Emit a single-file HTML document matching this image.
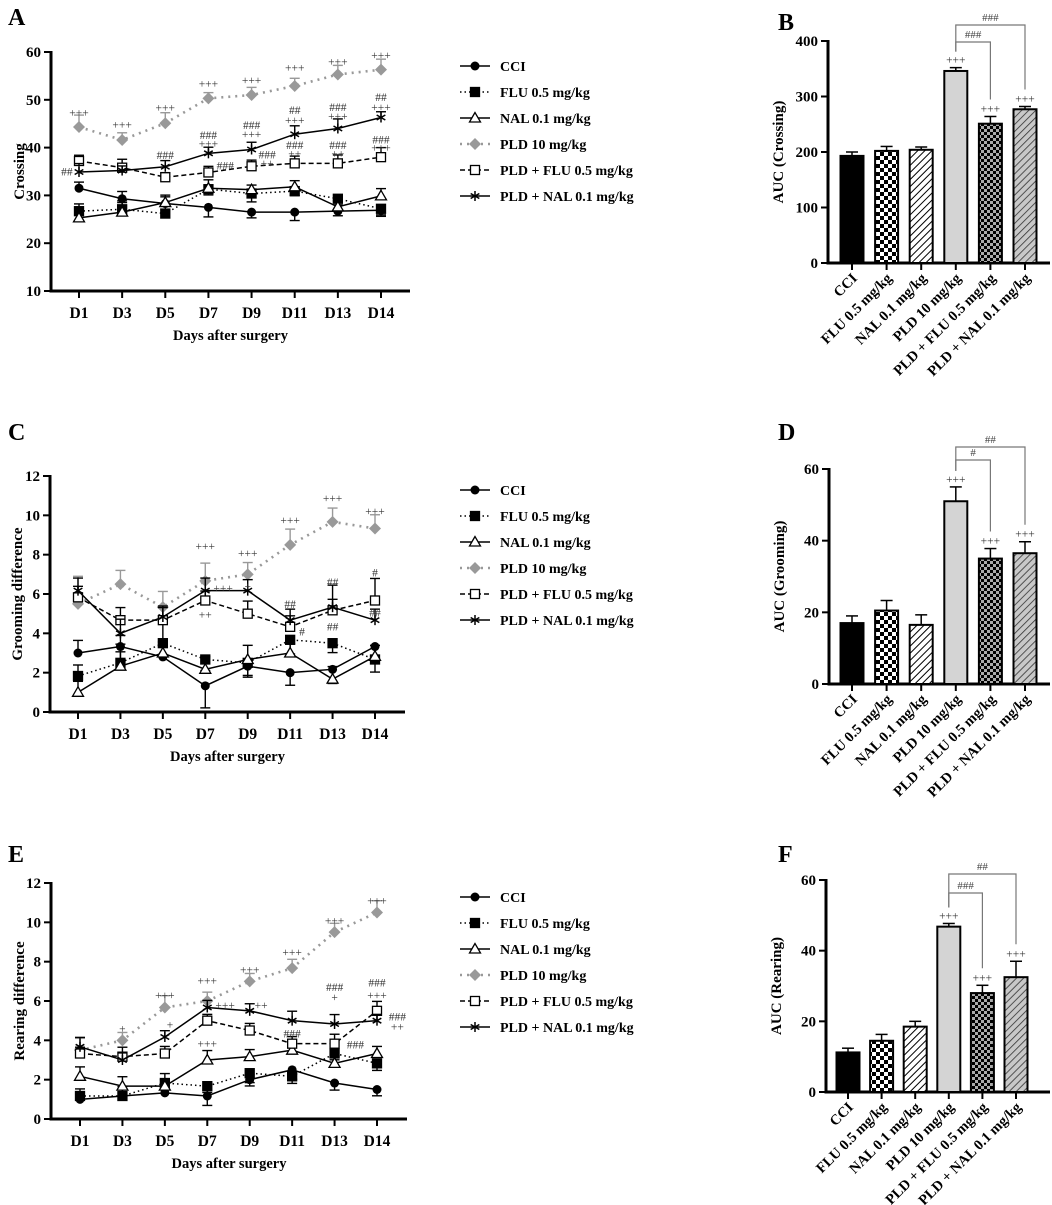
<!DOCTYPE html>
<html><head><meta charset="utf-8"><style>
html,body{margin:0;padding:0;background:#fff;}
svg{display:block;font-family:"Liberation Serif",serif;font-weight:bold;}
</style></head><body>
<svg id="fig" width="1052" height="1205" viewBox="0 0 1052 1205" xmlns="http://www.w3.org/2000/svg">
<defs>
<pattern id="chkBig" width="8" height="8" patternUnits="userSpaceOnUse"><rect width="8" height="8" fill="#fff"/><rect width="4" height="4" fill="#000"/><rect x="4" y="4" width="4" height="4" fill="#000"/></pattern>
<pattern id="chkSmall" width="6" height="6" patternUnits="userSpaceOnUse"><rect width="6" height="6" fill="#aaa"/><rect width="3" height="3" fill="#000"/><rect x="3" y="3" width="3" height="3" fill="#000"/></pattern>
<pattern id="hatchW" width="5" height="5" patternUnits="userSpaceOnUse" patternTransform="rotate(45)"><rect width="5" height="5" fill="#fff"/><line x1="0" y1="0" x2="0" y2="5" stroke="#000" stroke-width="2"/></pattern>
<pattern id="hatchG" width="5" height="5" patternUnits="userSpaceOnUse" patternTransform="rotate(45)"><rect width="5" height="5" fill="#c8c8c8"/><line x1="0" y1="0" x2="0" y2="5" stroke="#333" stroke-width="1.6"/></pattern>
</defs>
</svg>
<script>
const days = ["D1","D3","D5","D7","D9","D11","D13","D14"];
const groups = ["CCI","FLU 0.5 mg/kg","NAL 0.1 mg/kg","PLD 10 mg/kg","PLD + FLU 0.5 mg/kg","PLD + NAL 0.1 mg/kg"];
// Panel A crossing
const crossCCI = [31.5,29.3,28.3,27.5,26.5,26.5,26.7,26.9];
const crossFLU = [26.7,27.1,26.2,31.3,30.4,30.9,29.3,27.2];
const crossNAL = [25.3,26.5,28.5,31.5,31.2,31.8,27.6,29.9];
const crossPLD = [44.3,41.6,45.1,50.3,51.0,52.9,55.3,56.3];
const crossPF = [37.2,35.8,33.8,34.8,36.1,36.7,36.7,38.0];
const crossPN = [34.9,35.2,36.0,38.8,39.6,42.8,44.0,46.3];
const crossErr = [1.6,1.9,2.2,2.5,1.5,2.2,1.2,1.6];
const crossTicks = [10,20,30,40,50,60];
// Panel C grooming
const groomCCI = [3.0,3.33,2.8,1.33,2.33,2.0,2.17,3.33];
const groomFLU = [1.83,2.5,3.5,2.67,2.5,3.67,3.5,2.67];
const groomNAL = [1.0,2.33,3.0,2.17,2.67,3.0,1.67,2.83];
const groomPLD = [5.5,6.5,5.33,6.67,7.0,8.5,9.67,9.33];
const groomPF = [5.83,4.67,4.67,5.67,5.0,4.33,5.17,5.67];
const groomPN = [6.17,4.0,4.83,6.17,6.17,4.67,5.33,4.67];
const groomErr = [0.8,0.7,0.7,1.4,0.7,0.8,0.9,0.6];
const groomTicks = [0,2,4,6,8,10,12];
// Panel E rearing
const rearCCI = [1.0,1.17,1.33,1.17,2.0,2.5,1.83,1.5];
const rearFLU = [1.17,1.17,1.83,1.67,2.33,2.17,3.33,2.83];
const rearNAL = [2.17,1.67,1.67,3.0,3.17,3.5,2.83,3.33];
const rearPLD = [3.5,4.0,5.67,6.0,7.0,7.67,9.5,10.5];
const rearPF = [3.33,3.17,3.33,5.0,4.5,3.83,3.83,5.5];
const rearPN = [3.67,3.0,4.17,5.67,5.5,5.0,4.83,5.0];
const rearErr = [0.45,0.45,0.6,0.6,0.4,0.6,0.45,0.4];
const rearTicks = [0,2,4,6,8,10,12];
// AUC bars
const aucCross = [193,202,204,346,251,277];
const aucCrossErr = [7,8,5,6,13,5];
const aucCrossTicks = [0,100,200,300,400];
const aucGroom = [17,20.5,16.5,51,35,36.5];
const aucGroomErr = [2,2.8,2.8,4,2.8,3.2];
const aucGroomTicks = [0,20,40,60];
const aucRear = [11.2,14.5,18.5,46.8,28,32.5];
const aucRearErr = [1.2,1.8,1.5,0.9,2.2,4.5];
const aucRearTicks = [0,20,40,60];
// significance annotations: [day index, value, text]
const annA = [[0,47.3,"+++"],[1,44.8,"+++"],[2,48.4,"+++"],[3,53.4,"+++"],[4,54.1,"+++"],[5,56.8,"+++"],[6,58,"+++"],[7,59.4,"+++"],
 [-0.28,35,"##"],[2,38.5,"###"],[3,42.6,"###"],[3,40.9,"+++"],[4,44.7,"###"],[4,42.8,"+++"],[5,47.9,"##"],[5,45.8,"+++"],[6,48.5,"###"],[6,46.6,"+++"],[7,50.6,"##"],[7,48.5,"+++"],
 [3.39,36.3,"###"],[4.36,38.6,"###"],[4.36,36.8,"++"],[5,40.5,"###"],[5,38.8,"++"],[6,40.5,"###"],[6,38.8,"++"],[7,41.7,"###"],[7,40,"+++"]];
const annC = [[3,8.44,"+++"],[4,8.08,"+++"],[5,9.76,"+++"],[6,10.88,"+++"],[7,10.22,"+++"],[3.42,6.3,"+++"],[3,4.95,"++"],[4,6.4,"+"],
 [5,5.5,"##"],[5.28,4.1,"#"],[6,6.6,"##"],[6,4.35,"##"],[7,7.1,"#"],[7,5.05,"##"]];
const annE = [[2,6.3,"+++"],[3,7.05,"+++"],[4,7.6,"+++"],[5,8.5,"+++"],[6,10.1,"+++"],[7,11.1,"+++"],[1,4.6,"+"],[2.12,4.8,"+"],
 [3.42,5.8,"+++"],[3,3.85,"+++"],[4.27,5.8,"++"],[5,4.35,"###"],[6,6.7,"###"],[6,6.2,"+"],[6.49,3.8,"###"],[7,6.95,"###"],[7,6.3,"+++"],[7.48,5.2,"###"],[7.48,4.7,"++"]];

const NS="http://www.w3.org/2000/svg";
const svg=document.getElementById('fig');
function el(tag,attrs,parent,text){const e=document.createElementNS(NS,tag);for(const k in attrs)e.setAttribute(k,attrs[k]);if(text!==undefined)e.textContent=text;(parent||svg).appendChild(e);return e;}

const styles=[
 {stroke:"#000",dash:"",marker:"circle",fill:"#000",ecol:"#000"},
 {stroke:"#000",dash:"1.5,3",marker:"square",fill:"#000",ecol:"#000"},
 {stroke:"#000",dash:"",marker:"tri",fill:"#fff",ecol:"#000"},
 {stroke:"#999",dash:"2,5",marker:"diamond",fill:"#999",ecol:"#999",w:2.6},
 {stroke:"#000",dash:"5,3",marker:"square",fill:"#fff",ecol:"#000"},
 {stroke:"#000",dash:"",marker:"star",fill:"#000",ecol:"#000"}];

function marker(g,type,x,y,fill,stroke){
 if(type==="circle")return el('circle',{cx:x,cy:y,r:4.5,fill:fill},g);
 if(type==="square")return el('rect',{x:x-4.5,y:y-4.5,width:9,height:9,fill:fill,stroke:"#000","stroke-width":1.3},g);
 if(type==="tri")return el('polygon',{points:`${x},${y-5.5} ${x-5.5},${y+4} ${x+5.5},${y+4}`,fill:fill,stroke:"#000","stroke-width":1.3},g);
 if(type==="diamond")return el('polygon',{points:`${x},${y-6} ${x-6},${y} ${x},${y+6} ${x+6},${y}`,fill:fill},g);
 const s=el('g',{},g);
 for(const a of [0,60,120]){const r=a*Math.PI/180;el('line',{x1:x-5*Math.sin(r),y1:y-5*Math.cos(r),x2:x+5*Math.sin(r),y2:y+5*Math.cos(r),stroke:"#000","stroke-width":1.5},s);}
 return s;
}

function lineChart(o){
 const g=el('g',{});
 
 
 const ys=v=>o.yBot-(v-o.ymin)/(o.ymax-o.ymin)*(o.yBot-o.yTop);
 const xs=i=>o.x1+i*(o.x14-o.x1)/7;
 el('line',{x1:o.ax,y1:o.yTop-1,x2:o.ax,y2:o.yBot+1.5,stroke:"#000","stroke-width":3},g);
 el('line',{x1:o.ax-1.5,y1:o.yBot,x2:o.axEnd,y2:o.yBot,stroke:"#000","stroke-width":3},g);
 o.ticks.forEach(t=>{el('line',{x1:o.ax-7,y1:ys(t),x2:o.ax,y2:ys(t),stroke:"#000","stroke-width":2},g);
  const tl=el('text',{x:o.ax-10,y:ys(t)+5,"text-anchor":"end","font-size":15},g,t);
  });
 days.forEach((d,i)=>{el('line',{x1:xs(i),y1:o.yBot,x2:xs(i),y2:o.yBot+7,stroke:"#000","stroke-width":2},g);
  const tl=el('text',{x:xs(i),y:o.yBot+27,"text-anchor":"middle","font-size":15.5},g,d);
  });
 const xt=el('text',{x:(o.ax+o.axEnd)/2,y:o.yBot+49,"text-anchor":"middle","font-size":14.5},g,"Days after surgery");
 
 const yt=el('text',{x:0,y:0,"text-anchor":"middle","font-size":15,transform:`translate(${o.ytX},${(o.yTop+o.yBot)/2}) rotate(-90)`},g,o.ytitle);
 
 o.series.forEach((s,k)=>{
  const st=styles[k];
  const sg=el('g',{},g);
  
  
  s.forEach((v,i)=>{const e=o.err[(i+k)%8]*(k===3?1:0.8);const up=(k===0||k===1)&&i>2?-1:1;
   el('line',{x1:xs(i),y1:ys(v),x2:xs(i),y2:ys(v+up*e),stroke:st.ecol,"stroke-width":1.4},sg);
   el('line',{x1:xs(i)-5,y1:ys(v+up*e),x2:xs(i)+5,y2:ys(v+up*e),stroke:st.ecol,"stroke-width":1.4},sg);});
  el('polyline',{points:s.map((v,i)=>xs(i)+","+ys(v)).join(" "),fill:"none",stroke:st.stroke,"stroke-width":st.w||1.5,"stroke-dasharray":st.dash},sg);
  s.forEach((v,i)=>{const m=marker(sg,st.marker,xs(i),ys(v),st.fill);});
 });
 o.ann.forEach(a=>{const t=el('text',{x:xs(a[0]),y:ys(a[1])+4,"text-anchor":"middle","font-size":11.5,"font-weight":"normal",fill:"#333"},g,a[2]);
  });
 const lg=el('g',{});
 
 groups.forEach((n,k)=>{const st=styles[k];const y=o.legY+k*o.legDy;
  const e=el('g',{},lg);
  el('line',{x1:460,y1:y,x2:490,y2:y,stroke:st.stroke,"stroke-width":st.w||1.5,"stroke-dasharray":st.dash},e);
  marker(e,st.marker,475,y,st.fill);
  el('text',{x:500,y:y+5,"font-size":14},e,n);});
}

const fills=["#000","url(#chkBig)","url(#hatchW)","#d4d4d4","url(#chkSmall)","url(#hatchG)"];
function barChart(o){
 const g=el('g',{});
 
 const ys=v=>o.yBot-v/o.ymax*(o.yBot-o.yTop);
 const xs=i=>o.b0+i*o.bd;
 el('line',{x1:o.ax,y1:o.yTop-1,x2:o.ax,y2:o.yBot+1.5,stroke:"#000","stroke-width":3},g);
 el('line',{x1:o.ax-1.5,y1:o.yBot,x2:1050,y2:o.yBot,stroke:"#000","stroke-width":3},g);
 o.ticks.forEach(t=>{el('line',{x1:o.ax-7,y1:ys(t),x2:o.ax,y2:ys(t),stroke:"#000","stroke-width":2},g);
  const tl=el('text',{x:o.ax-10,y:ys(t)+5,"text-anchor":"end","font-size":15},g,t);
  });
 const yt=el('text',{x:0,y:0,"text-anchor":"middle","font-size":15,transform:`translate(${o.ax-45},${(o.yTop+o.yBot)/2}) rotate(-90)`},g,o.ytitle);
 
 o.vals.forEach((v,i)=>{const x=xs(i);
  const b=el('rect',{x:x-11.5,y:ys(v),width:23,height:o.yBot-ys(v),fill:fills[i],stroke:"#000","stroke-width":2},g);
  
  const e=o.err[i];
  el('line',{x1:x,y1:ys(v),x2:x,y2:ys(v+e),stroke:"#000","stroke-width":1.5},g);
  el('line',{x1:x-6,y1:ys(v+e),x2:x+6,y2:ys(v+e),stroke:"#000","stroke-width":1.5},g);
  el('line',{x1:x,y1:o.yBot,x2:x,y2:o.yBot+7,stroke:"#000","stroke-width":2},g);
  const tl=el('text',{x:0,y:0,"text-anchor":"end","font-size":14.5,transform:`translate(${x+6},${o.yBot+16}) rotate(-45)`},g,groups[i]);
  
  if(i>=3){const t=el('text',{x:x,y:ys(v+e)-4,"text-anchor":"middle","font-size":11.5,"font-weight":"normal",fill:"#333"},g,"+++");
   }
 });
 const x3=xs(3);
 const top3=ys(o.vals[3]+o.err[3])-16;
 [[4,o.brIn,o.labIn],[5,o.brOut,o.labOut]].forEach(([j,by,lab])=>{
  const xj=xs(j);const endY=ys(o.vals[j]+o.err[j])-17;
  const p=el('polyline',{points:`${x3},${top3} ${x3},${by} ${xj},${by} ${xj},${endY}`,fill:"none",stroke:"#777","stroke-width":1.2},g);
  
  const t=el('text',{x:(x3+xj)/2,y:by-4,"text-anchor":"middle","font-size":11,"font-weight":"normal",fill:"#444"},g,lab);
  
 });
}

lineChart({name:"crossing-line-chart",ax:51,axEnd:410,yTop:52,yBot:291,ymin:10,ymax:60,ticks:crossTicks,x1:79,x14:381,ytitle:"Crossing",ytX:24,
 series:[crossCCI,crossFLU,crossNAL,crossPLD,crossPF,crossPN],err:crossErr,ann:annA,legY:66,legDy:26});
lineChart({name:"grooming-line-chart",ax:50,axEnd:405,yTop:476,yBot:712,ymin:0,ymax:12,ticks:groomTicks,x1:78,x14:375,ytitle:"Grooming difference",ytX:22,
 series:[groomCCI,groomFLU,groomNAL,groomPLD,groomPF,groomPN],err:groomErr,ann:annC,legY:490,legDy:26});
lineChart({name:"rearing-line-chart",ax:51,axEnd:407,yTop:883,yBot:1119,ymin:0,ymax:12,ticks:rearTicks,x1:80,x14:377,ytitle:"Rearing difference",ytX:24,
 series:[rearCCI,rearFLU,rearNAL,rearPLD,rearPF,rearPN],err:rearErr,ann:annE,legY:897,legDy:26});

barChart({name:"auc-crossing-bar-chart",ax:828,yTop:41,yBot:263,ymax:400,ticks:aucCrossTicks,b0:852,bd:34.6,vals:aucCross,err:aucCrossErr,ytitle:"AUC (Crossing)",brOut:25,brIn:42,labOut:"###",labIn:"###"});
barChart({name:"auc-grooming-bar-chart",ax:829,yTop:469,yBot:684,ymax:60,ticks:aucGroomTicks,b0:852,bd:34.6,vals:aucGroom,err:aucGroomErr,ytitle:"AUC (Grooming)",brOut:447,brIn:460,labOut:"##",labIn:"#"});
barChart({name:"auc-rearing-bar-chart",ax:826,yTop:880,yBot:1092,ymax:60,ticks:aucRearTicks,b0:848,bd:33.6,vals:aucRear,err:aucRearErr,ytitle:"AUC (Rearing)",brOut:874,brIn:893,labOut:"##",labIn:"###"});

[["A",8,25],["B",778,30],["C",8,440],["D",778,440],["E",8,862],["F",778,862]].forEach(([l,x,y])=>{
 const t=el('text',{x:x,y:y,"font-size":24},svg,l);
 
 });
</script>
</body></html>
